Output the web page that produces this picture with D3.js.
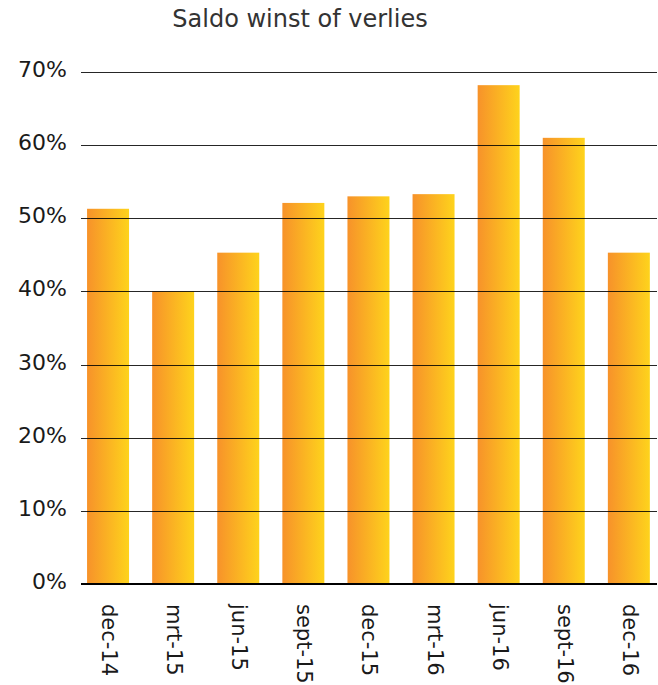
<!DOCTYPE html>
<html>
<head>
<meta charset="utf-8">
<script src="https://cdn.jsdelivr.net/npm/d3@7"></script>
<style>
  body { margin: 0; background: #fff; }
  text { font-family: "DejaVu Sans", Verdana, sans-serif; fill: #1a1a1a; }
</style>
</head>
<body>
<div id="chart"></div>
<script>
// chart data
var periods = ["dec-14", "mrt-15", "jun-15", "sept-15", "dec-15", "mrt-16", "jun-16", "sept-16", "dec-16"];
var saldo = [51.3, 40.0, 45.3, 52.1, 53.0, 53.3, 68.2, 61.0, 45.3];
var yTicks = [0, 10, 20, 30, 40, 50, 60, 70];
var chartTitle = "Saldo winst of verlies";

var width = 658, height = 685;
var margin = {top: 72, right: 1, bottom: 101, left: 81};

var svg = d3.select("#chart").append("svg")
    .attr("width", width)
    .attr("height", height);

// orange -> yellow gradient on the bars
var grad = svg.append("defs").append("linearGradient")
    .attr("id", "barGrad")
    .attr("x1", "0%").attr("x2", "100%")
    .attr("y1", "0%").attr("y2", "0%");
grad.append("stop").attr("offset", "0%").attr("stop-color", "#f7922a");
grad.append("stop").attr("offset", "100%").attr("stop-color", "#fed31c");

var x = d3.scaleBand()
    .domain(periods)
    .range([75.5, 661.4])
    .paddingInner(0.355)
    .paddingOuter(0.1775);

var y = d3.scaleLinear()
    .domain([0, 70])
    .range([height - margin.bottom, margin.top]);

// title
svg.append("text")
    .attr("x", 300)
    .attr("y", 27)
    .attr("text-anchor", "middle")
    .attr("font-size", 24)
    .style("fill", "#333")
    .text(chartTitle);

// bars
svg.selectAll("rect.bar")
    .data(saldo)
    .enter().append("rect")
    .attr("class", "bar")
    .attr("x", function(d, i) { return x(periods[i]); })
    .attr("y", function(d) { return y(d); })
    .attr("width", x.bandwidth())
    .attr("height", function(d) { return y(0) - y(d); })
    .attr("fill", "url(#barGrad)");

// gridlines drawn on top of the bars
svg.selectAll("line.grid")
    .data(yTicks.filter(function(t) { return t > 0; }))
    .enter().append("line")
    .attr("class", "grid")
    .attr("x1", margin.left)
    .attr("x2", width - margin.right)
    .attr("y1", function(d) { return Math.round(y(d)) + 0.5; })
    .attr("y2", function(d) { return Math.round(y(d)) + 0.5; })
    .attr("stroke", "#000")
    .attr("stroke-opacity", 0.85)
    .attr("stroke-width", 1.2);

// baseline
svg.append("line")
    .attr("x1", margin.left)
    .attr("x2", width - margin.right)
    .attr("y1", y(0))
    .attr("y2", y(0))
    .attr("stroke", "#000")
    .attr("stroke-width", 2);

// y labels
svg.selectAll("text.ylab")
    .data(yTicks)
    .enter().append("text")
    .attr("class", "ylab")
    .attr("x", 67)
    .attr("y", function(d) { return y(d) + 5; })
    .attr("text-anchor", "end")
    .attr("font-size", 22)
    .text(function(d) { return d + "%"; });

// x labels, rotated
svg.selectAll("text.xlab")
    .data(periods)
    .enter().append("text")
    .attr("class", "xlab")
    .attr("transform", function(d) {
        return "translate(" + (x(d) + x.bandwidth() / 2 - 6) + "," + 604 + ") rotate(90)";
    })
    .attr("font-size", 21)
    .text(function(d) { return d; });
</script>
</body>
</html>
